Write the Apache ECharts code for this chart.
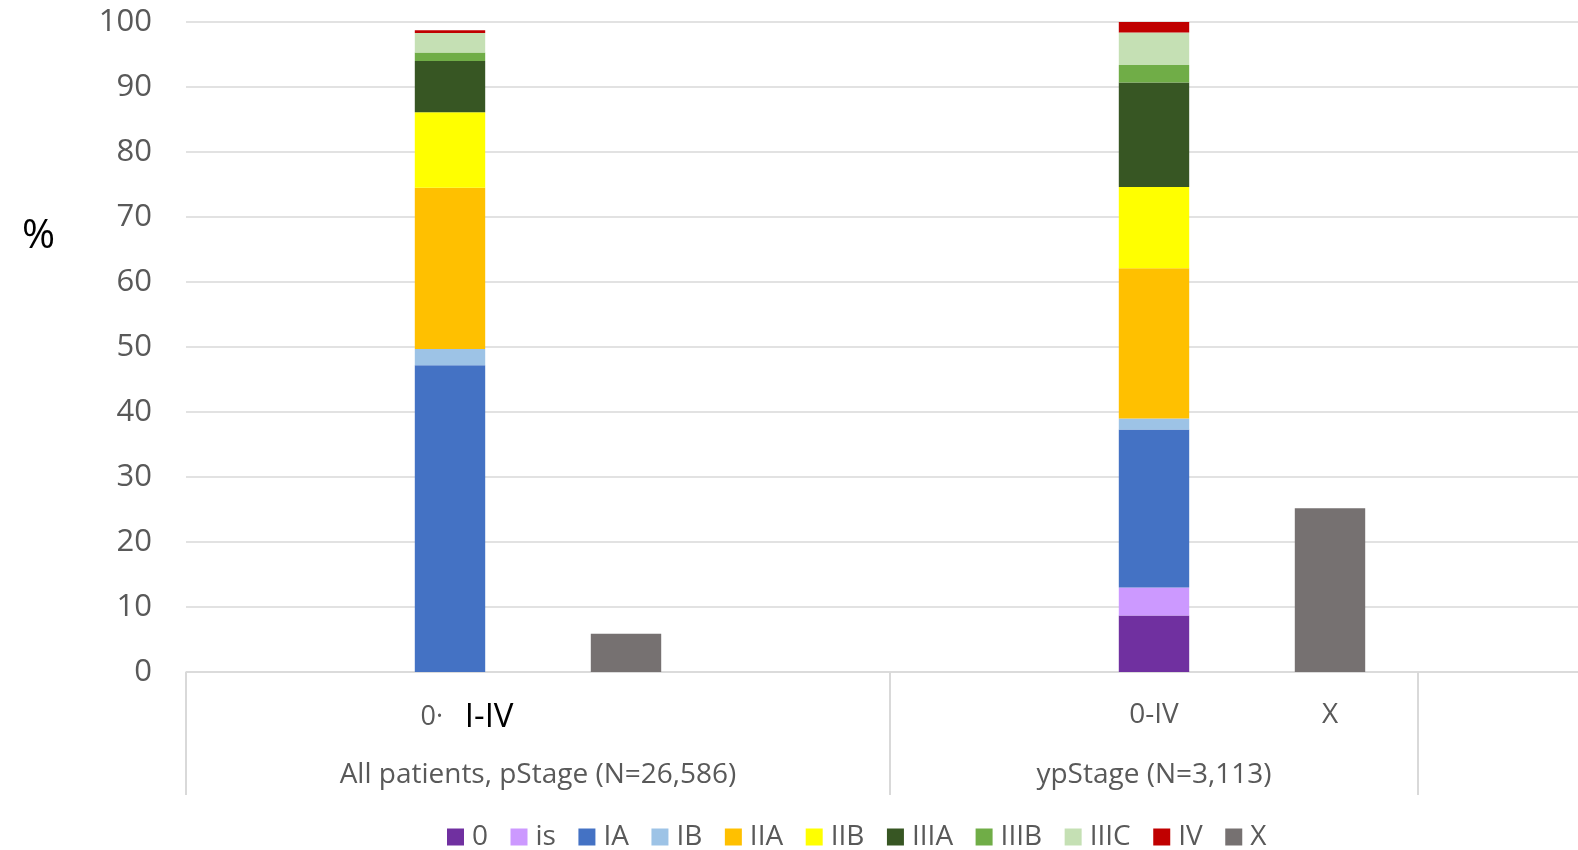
<!DOCTYPE html>
<html>
<head>
<meta charset="utf-8">
<script src="https://cdn.jsdelivr.net/npm/echarts@6/dist/echarts.min.js"></script>
<style>
  html, body { margin: 0; padding: 0; background: #ffffff; overflow: hidden; }
  #chart { width: 1600px; height: 850px; }
</style>
</head>
<body>
<div id="chart"></div>
<script>
// ---- Data (values in %, [pStage all patients, ypStage]) ----
const stageNames = ['0', 'is', 'IA', 'IB', 'IIA', 'IIB', 'IIIA', 'IIIB', 'IIIC', 'IV', 'X'];
const stage0    = [0,    8.7];
const stageIs   = [0,    4.3];
const stageIA   = [47.2, 24.3];
const stageIB   = [2.5,  1.7];
const stageIIA  = [24.8, 23.1];
const stageIIB  = [11.6, 12.5];
const stageIIIA = [7.9,  16.1];
const stageIIIB = [1.3,  2.7];
const stageIIIC = [3.0,  5.0];
const stageIV   = [0.45, 1.6];
const stageX    = [5.9,  25.2];

// category slots on the axis
const categories = ['s0', 'all_0IV', 'all_X', 's3', 's4', 'yp_0IV', 'yp_X', 's7'];
const tickLabels = ['', '{pad|}{g|0·}   {b|I-IV}', '', '', '', '0-IV', 'X', ''];
const groupLabels = ['All patients, pStage (N=26,586)', 'ypStage (N=3,113)'];
const yTicks = [0, 10, 20, 30, 40, 50, 60, 70, 80, 90, 100];

const colors = ['#7030a0', '#cc99ff', '#4472c4', '#9dc3e6', '#ffc000', '#ffff00',
                '#375623', '#70ad47', '#c5e0b4', '#c00000', '#767171'];

// slot indices of the stacked (0-IV) bars and of the X bars
const stackSlots = [1, 5];
const xSlots = [2, 6];

function toSlots(vals, slots) {
  const arr = categories.map(() => null);
  slots.forEach((s, i) => { arr[s] = vals[i]; });
  return arr;
}

const stageValues = [stage0, stageIs, stageIA, stageIB, stageIIA, stageIIB,
                     stageIIIA, stageIIIB, stageIIIC, stageIV];

const series = stageNames.map((name, i) => ({
  name: name,
  type: 'bar',
  stack: 'total',
  barWidth: '40%',
  xAxisIndex: 0,
  itemStyle: { color: colors[i] },
  emphasis: { disabled: true },
  data: i < 10 ? toSlots(stageValues[i], stackSlots) : toSlots(stageX, xSlots)
}));

const FONT = '"Open Sans", "Noto Sans", sans-serif';
const GRAY = '#595959';
const LINE = '#d9d9d9';

const chart = echarts.init(document.getElementById('chart'), null, { renderer: 'canvas' });
chart.setOption({
  animation: false,
  backgroundColor: '#ffffff',
  title: {
    text: '%',
    left: 17,
    top: 212,
    textStyle: { fontFamily: FONT, fontSize: 40, fontWeight: 'normal', color: '#000000' }
  },
  grid: { left: 186, top: 22, width: 1408, height: 650, containLabel: false },
  legend: {
    left: 442,
    top: 818,
    icon: 'rect',
    itemWidth: 17,
    itemHeight: 17,
    itemGap: 22.5,
    textStyle: { fontFamily: FONT, fontSize: 28, color: GRAY, padding: [0, 0, 0, 3] },
    data: stageNames
  },
  xAxis: [
    {
      type: 'category',
      data: categories,
      position: 'bottom',
      axisLine: { show: true, lineStyle: { color: LINE, width: 1.5 } },
      axisTick: { show: false },
      splitLine: { show: false },
      axisLabel: {
        interval: 0,
        margin: 29,
        fontFamily: FONT,
        fontSize: 28,
        color: GRAY,
        formatter: (v, idx) => tickLabels[idx],
        rich: {
          pad: { width: 34 },
          g: { fontFamily: FONT, fontSize: 27, color: GRAY },
          b: { fontFamily: FONT, fontSize: 33, color: '#000000' }
        }
      }
    },
    {
      type: 'value',
      min: 0,
      max: categories.length,
      position: 'bottom',
      gridIndex: 0,
      axisLine: { show: false },
      splitLine: { show: false },
      axisTick: {
        show: true,
        customValues: [0, 4, 7],
        length: 123,
        lineStyle: { color: LINE, width: 2 }
      },
      axisLabel: {
        customValues: [2, 5.5],
        margin: 89,
        fontFamily: FONT,
        fontSize: 28,
        color: GRAY,
        formatter: (v) => (v === 2 ? groupLabels[0] : groupLabels[1])
      }
    }
  ],
  yAxis: {
    type: 'value',
    min: yTicks[0],
    max: yTicks[yTicks.length - 1],
    interval: 10,
    axisLine: { show: false },
    axisTick: { show: false },
    splitLine: { show: true, lineStyle: { color: LINE, width: 1.5 } },
    axisLabel: { margin: 34, fontFamily: FONT, fontSize: 31, color: GRAY }
  },
  series: series
});
</script>
</body>
</html>
